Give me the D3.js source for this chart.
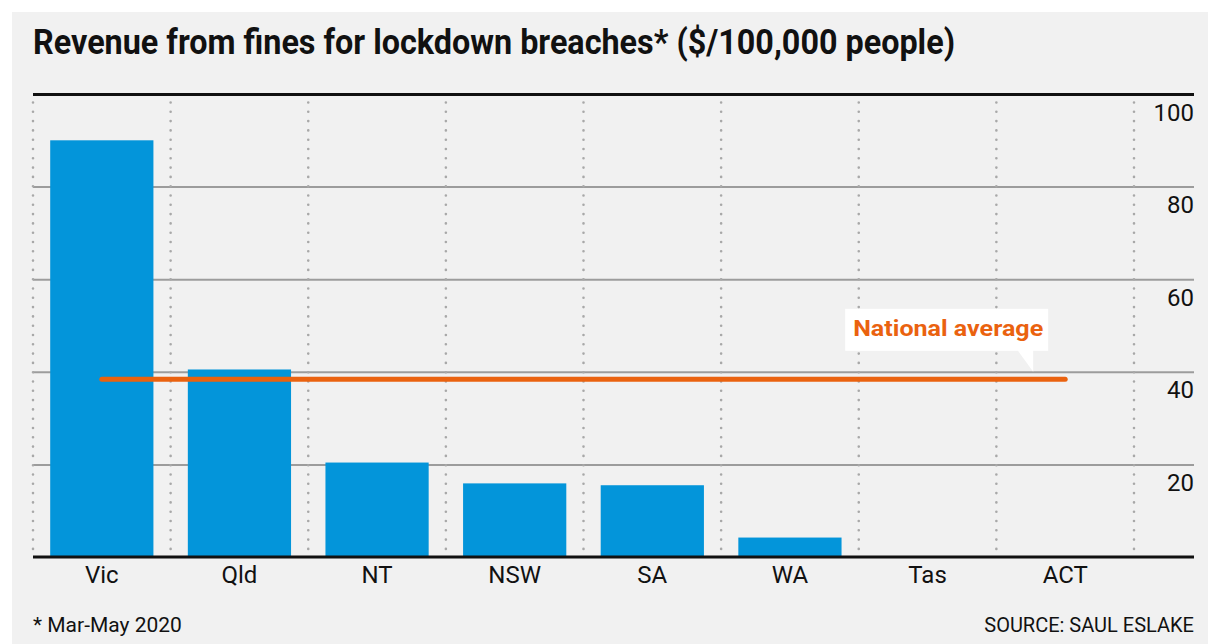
<!DOCTYPE html>
<html>
<head>
<meta charset="utf-8">
<script src="https://cdn.jsdelivr.net/npm/d3@7"></script>
<style>
  body { margin: 0; background: #fff; }
  text { font-family: Roboto, "Open Sans", sans-serif; }
</style>
</head>
<body>
<div id="chart"></div>
<script>
(function () {

  // data
  const states = ['Vic', 'Qld', 'NT', 'NSW', 'SA', 'WA', 'Tas', 'ACT']
  const revenue = [90, 40.5, 20.4, 15.9, 15.5, 4.2, 0, 0]
  const nationalAverage = 38.4
  const yTicks = [20, 40, 60, 80, 100]

  const W = 1208
  const H = 644
  const margin = { top: 94, right: 14, bottom: 87, left: 33 }
  const plotRight = 1134

  const svg = d3.select('#chart').append('svg')
    .attr('width', W)
    .attr('height', H)

  // grey panel
  svg.append('rect')
    .attr('x', 12).attr('y', 12)
    .attr('width', W - 12).attr('height', H - 12)
    .attr('fill', '#f1f1f1')

  const xScale = d3.scaleBand()
    .domain(states)
    .range([margin.left, plotRight])
    .paddingInner(0.25)
    .paddingOuter(0.125)

  const yScale = d3.scaleLinear()
    .domain([0, 100])
    .range([H - margin.bottom, margin.top])

  // title
  svg.append('text')
    .attr('x', 33)
    .attr('y', 54)
    .attr('font-size', 35)
    .attr('font-weight', 700)
    .attr('fill', '#111')
    .attr('textLength', 922)
    .attr('lengthAdjust', 'spacingAndGlyphs')
    .text('Revenue from fines for lockdown breaches* ($/100,000 people)')

  // horizontal grid lines, labels sit under each line on the right
  const yAxis = d3.axisRight(yScale)
    .tickValues(yTicks)
    .tickSize(W - margin.right - margin.left)
    .tickFormat(d3.format('d'))

  const yG = svg.append('g')
    .attr('class', 'axis y-axis')
    .attr('transform', 'translate(' + margin.left + ',0)')
    .call(yAxis)
  yG.select('.domain').remove()
  yG.selectAll('.tick line')
    .attr('stroke', d => d === 100 ? '#111' : '#9c9c9c')
    .attr('stroke-width', d => d === 100 ? 3 : 2)
  yG.selectAll('.tick text')
    .attr('x', W - margin.right - margin.left)
    .attr('dy', 26)
    .attr('text-anchor', 'end')
    .attr('font-size', 24)
    .attr('fill', '#111')

  // dotted separators between states
  const edges = states.map(s => xScale(s) - xScale.step() * xScale.paddingInner() / 2)
  edges.push(plotRight)
  svg.append('g')
    .selectAll('line')
    .data(edges)
    .join('line')
    .attr('x1', d => d)
    .attr('x2', d => d)
    .attr('y1', yScale(100) + 8.5)
    .attr('y2', yScale(0))
    .attr('stroke', '#a8a8a8')
    .attr('stroke-width', 2.6)
    .attr('stroke-linecap', 'round')
    .attr('stroke-dasharray', '0,9.3')

  // bars
  svg.append('g')
    .selectAll('rect')
    .data(states)
    .join('rect')
    .attr('x', d => xScale(d))
    .attr('width', xScale.bandwidth())
    .attr('y', (d, i) => yScale(revenue[i]))
    .attr('height', (d, i) => yScale(0) - yScale(revenue[i]))
    .attr('fill', '#0395da')

  // baseline + category labels
  const xAxis = d3.axisBottom(xScale).tickSize(0).tickPadding(9)
  const xG = svg.append('g')
    .attr('class', 'axis x-axis')
    .attr('transform', 'translate(0,' + yScale(0) + ')')
    .call(xAxis)
  xG.select('.domain').remove()
  xG.append('line')
    .attr('x1', margin.left)
    .attr('x2', W - margin.right)
    .attr('stroke', '#111')
    .attr('stroke-width', 3)
  xG.selectAll('.tick text')
    .attr('font-size', 24)
    .attr('fill', '#111')

  // national average line
  const avgY = yScale(nationalAverage)
  const x0 = xScale(states[0]) + xScale.bandwidth() / 2
  const x1 = xScale(states[states.length - 1]) + xScale.bandwidth() / 2
  svg.append('line')
    .attr('x1', x0).attr('x2', x1)
    .attr('y1', avgY).attr('y2', avgY)
    .attr('stroke', '#ea620f')
    .attr('stroke-width', 5)
    .attr('stroke-linecap', 'round')

  // label box with pointer
  const tipX = x1 - 32
  const tipY = yScale(40)
  const boxRight = tipX + 15
  const boxBottom = tipY - 21
  const label = svg.append('g')
  label.append('rect')
    .attr('x', boxRight - 203)
    .attr('y', boxBottom - 42)
    .attr('width', 203)
    .attr('height', 42)
    .attr('fill', '#fff')
  label.append('path')
    .attr('d', 'M' + (tipX - 16) + ',' + (boxBottom - 1) + 'L' + tipX + ',' + (boxBottom - 1) +
      'L' + tipX + ',' + tipY + 'Z')
    .attr('fill', '#fff')
  label.append('text')
    .attr('x', boxRight - 195)
    .attr('y', boxBottom - 15)
    .attr('font-size', 22)
    .attr('font-weight', 700)
    .attr('fill', '#ea620f')
    .attr('textLength', 190)
    .attr('lengthAdjust', 'spacingAndGlyphs')
    .text('National average')

  // footer
  svg.append('text')
    .attr('x', 33)
    .attr('y', 632)
    .attr('font-size', 21)
    .attr('fill', '#111')
    .text('* Mar-May 2020')

  svg.append('text')
    .attr('x', W - margin.right)
    .attr('y', 632)
    .attr('text-anchor', 'end')
    .attr('font-size', 20)
    .attr('fill', '#111')
    .text('SOURCE: SAUL ESLAKE')

})();
</script>
</body>
</html>
